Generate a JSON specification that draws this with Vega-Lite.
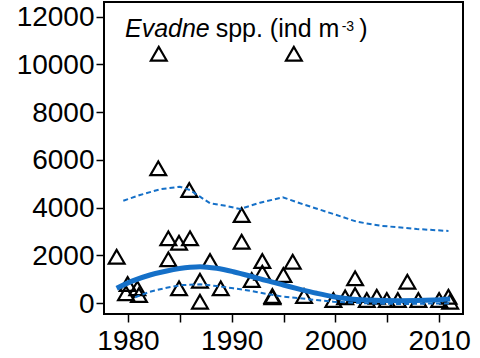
{
  "$schema": "https://vega.github.io/schema/vega-lite/v6.json",
  "width": 359,
  "height": 312,
  "autosize": {"type": "none"},
  "padding": {"left": 104, "top": 2, "right": 17, "bottom": 44},
  "config": {
    "view": {"stroke": "black", "strokeWidth": 2},
    "font": "Liberation Sans",
    "axis": {"grid": false, "domain": false, "tickColor": "black", "tickWidth": 1.5, "tickSize": 8, "labelColor": "black", "labelFontSize": 28, "labelFont": "Liberation Sans", "title": null}
  },
  "datasets": {
    "obs": [
      {"year": 1982.92, "v": 5645}, {"year": 1985.91, "v": 4736}, {"year": 1990.96, "v": 3688}, {"year": 1990.96, "v": 2569},
      {"year": 1983.89, "v": 2712}, {"year": 1984.92, "v": 2527}, {"year": 1985.98, "v": 2712}, {"year": 1978.91, "v": 1940},
      {"year": 1983.89, "v": 1831}, {"year": 1987.91, "v": 1760}, {"year": 1992.95, "v": 1760}, {"year": 1995.88, "v": 1731},
      {"year": 1992.95, "v": 1270}, {"year": 1994.98, "v": 1173}, {"year": 1991.93, "v": 964}, {"year": 1986.94, "v": 935},
      {"year": 2001.89, "v": 1035}, {"year": 2006.93, "v": 893}, {"year": 1979.97, "v": 796}, {"year": 1980.9, "v": 616},
      {"year": 1984.92, "v": 616}, {"year": 1988.94, "v": 616}, {"year": 1979.81, "v": 407}, {"year": 1981.06, "v": 335},
      {"year": 1986.94, "v": 54}, {"year": 1993.92, "v": 293}, {"year": 1993.92, "v": 239}, {"year": 1996.97, "v": 293},
      {"year": 1999.8, "v": 126}, {"year": 2000.93, "v": 239}, {"year": 2001.89, "v": 335}, {"year": 2003.02, "v": 126},
      {"year": 2003.98, "v": 264}, {"year": 2004.95, "v": 126}, {"year": 2006.01, "v": 126}, {"year": 2007.99, "v": 126},
      {"year": 2009.99, "v": 126}, {"year": 2010.89, "v": 264}, {"year": 2011.05, "v": 54},
      {"year": 1982.97, "v": 10448}, {"year": 1995.99, "v": 10448}
    ],
    "fit": [
      {"year": 1978.91, "v": 616}, {"year": 1980.51, "v": 935}, {"year": 1982.12, "v": 1173}, {"year": 1983.73, "v": 1341},
      {"year": 1985.98, "v": 1496}, {"year": 1986.94, "v": 1521}, {"year": 1988.55, "v": 1454}, {"year": 1990.15, "v": 1312},
      {"year": 1991.76, "v": 1132}, {"year": 1993.37, "v": 935}, {"year": 1994.98, "v": 754}, {"year": 1996.59, "v": 574},
      {"year": 1998.2, "v": 407}, {"year": 1999.8, "v": 264}, {"year": 2001.41, "v": 168}, {"year": 2003.02, "v": 126},
      {"year": 2006.23, "v": 96}, {"year": 2009.44, "v": 126}, {"year": 2011.05, "v": 168}
    ],
    "bands": [
      {"b": "upper", "year": 1979.55, "v": 4287}, {"b": "upper", "year": 1981.16, "v": 4526}, {"b": "upper", "year": 1983.09, "v": 4765},
      {"b": "upper", "year": 1985.01, "v": 4874}, {"b": "upper", "year": 1985.98, "v": 4736}, {"b": "upper", "year": 1986.94, "v": 4455},
      {"b": "upper", "year": 1987.91, "v": 4178}, {"b": "upper", "year": 1989.52, "v": 4065}, {"b": "upper", "year": 1990.8, "v": 3940},
      {"b": "upper", "year": 1992.73, "v": 4204}, {"b": "upper", "year": 1994.92, "v": 4430}, {"b": "upper", "year": 1996.59, "v": 4178},
      {"b": "upper", "year": 1999.8, "v": 3730}, {"b": "upper", "year": 2002.05, "v": 3407}, {"b": "upper", "year": 2004.3, "v": 3240},
      {"b": "upper", "year": 2007.84, "v": 3101}, {"b": "upper", "year": 2010.89, "v": 3018},
      {"b": "lower", "year": 1980.68, "v": 239}, {"b": "lower", "year": 1982.12, "v": 474}, {"b": "lower", "year": 1983.73, "v": 641},
      {"b": "lower", "year": 1985.33, "v": 754}, {"b": "lower", "year": 1986.94, "v": 784}, {"b": "lower", "year": 1988.55, "v": 712},
      {"b": "lower", "year": 1990.15, "v": 616}, {"b": "lower", "year": 1991.76, "v": 515}, {"b": "lower", "year": 1993.37, "v": 377},
      {"b": "lower", "year": 1994.98, "v": 264}, {"b": "lower", "year": 1996.59, "v": 197}, {"b": "lower", "year": 1999.8, "v": 54},
      {"b": "lower", "year": 2003.02, "v": -13}, {"b": "lower", "year": 2006.23, "v": -42}, {"b": "lower", "year": 2011.05, "v": -13}
    ]
  },
  "encoding": {
    "x": {
      "field": "year", "type": "quantitative",
      "scale": {"domain": [1977.69, 2012.29], "nice": false, "zero": false},
      "axis": {"values": [1980, 1985, 1990, 1995, 2000, 2005, 2010], "format": "d", "labelExpr": "datum.value % 10 === 0 ? datum.label : ''", "labelPadding": 5, "labelFlush": false, "labelOverlap": false}
    },
    "y": {
      "field": "v", "type": "quantitative",
      "scale": {"domain": [-461, 12615], "nice": false, "zero": false},
      "axis": {"values": [0, 2000, 4000, 6000, 8000, 10000, 12000], "format": "d", "labelPadding": 2, "labelOffset": 1, "labelOverlap": false}
    }
  },
  "layer": [
    {
      "data": {"name": "obs"},
      "mark": {"type": "point", "shape": "triangle-up", "filled": false, "stroke": "black", "strokeWidth": 2.2, "size": 250, "opacity": 1}
    },
    {
      "data": {"name": "bands"},
      "mark": {"type": "line", "color": "#1570c8", "strokeWidth": 2, "strokeDash": [5, 3]},
      "encoding": {"detail": {"field": "b"}}
    },
    {
      "data": {"name": "fit"},
      "mark": {"type": "line", "color": "#1570c8", "strokeWidth": 5, "interpolate": "monotone"}
    },
    {
      "data": {"values": [{"year": 1979.71, "v": 11141, "t": "Evadne"}]},
      "mark": {"type": "text", "align": "left", "baseline": "alphabetic", "fontSize": 25, "fontStyle": "italic", "font": "Liberation Sans", "color": "black"},
      "encoding": {"text": {"field": "t"}}
    },
    {
      "data": {"values": [{"year": 1988.45, "v": 11141, "t": "spp. (ind m"}, {"year": 2002.3, "v": 11141, "t": ")"}]},
      "mark": {"type": "text", "align": "left", "baseline": "alphabetic", "fontSize": 25, "font": "Liberation Sans", "color": "black"},
      "encoding": {"text": {"field": "t"}}
    },
    {
      "data": {"values": [{"year": 2000.6, "v": 11412, "t": "-3"}]},
      "mark": {"type": "text", "align": "left", "baseline": "alphabetic", "fontSize": 14, "font": "Liberation Sans", "color": "black"},
      "encoding": {"text": {"field": "t"}}
    }
  ]
}
